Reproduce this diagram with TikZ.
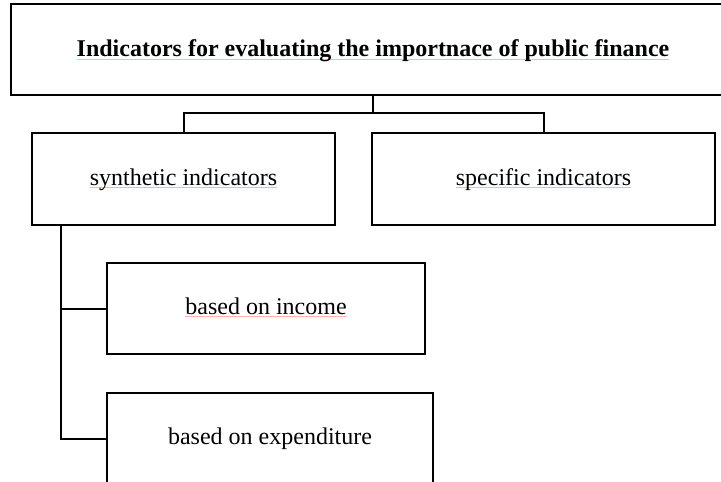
\documentclass[tikz,border=0pt]{standalone}
\usepackage{fontspec}
\setmainfont{Liberation Serif}
\usepackage{xcolor}
\usepackage{tikz}

\newsavebox{\spellbox}
\newcommand{\spellmark}[1]{\sbox{\spellbox}{#1}\rlap{\color{red!30}\rule[-1.2pt]{\wd\spellbox}{0.4pt}}\usebox{\spellbox}}

\begin{document}
\begin{tikzpicture}[x=0.5pt, y=-0.5pt,
        box/.style={draw=black, line width=1pt, inner sep=0pt, text height=9pt, text depth=3pt, font=\fontsize{12}{14}\selectfont},
        link/.style={line width=1pt}]
        \path[use as bounding box, clip] (0, 0) rectangle (721, 481);

        \node[box, line width=1.4pt, minimum width=362pt, minimum height=45.5pt, text height=9.5pt, text depth=2pt, font=\fontsize{12}{14}\selectfont\bfseries] (top) at (373, 49.5) {\spellmark{Indicators for evaluating the importnace of public finance}};

        \node[box, minimum width=151.5pt, minimum height=46pt] (synth) at (183.5, 179) {\spellmark{synthetic indicators}};
        \node[box, minimum width=171.5pt, minimum height=46pt] (specif) at (543.5, 179) {\spellmark{specific indicators}};

        \node[box, minimum width=159pt, minimum height=45.5pt] (income) at (266, 308.5) {\spellmark{based on income}};
        \node[box, minimum width=163pt, minimum height=45.5pt] (expend) at (270, 438.5) {based on expenditure};

        \coordinate (split) at (373, 113);
        \draw[link] (top.south) -- (split);
        \draw[link] (synth.north) |- (split) -| (specif.north);

        \coordinate (trunk) at ([xshift=15pt]synth.south west);
        \draw[link] (trunk) |- (income.west);
        \draw[link] (trunk) |- (expend.west);

    \end{tikzpicture}
\end{document}
